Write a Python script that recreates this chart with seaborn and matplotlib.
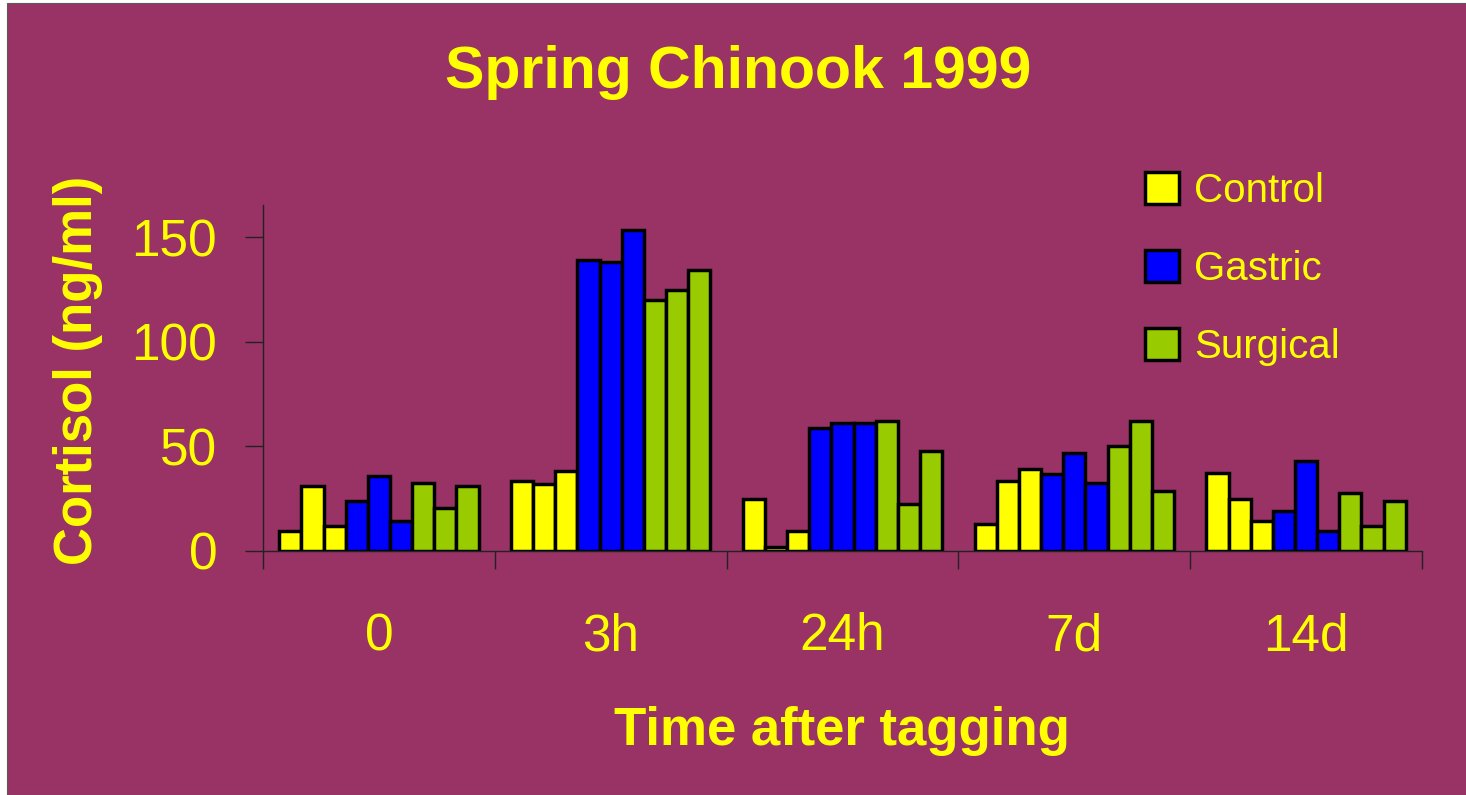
import pandas as pd
import seaborn as sns
import matplotlib.pyplot as plt
from matplotlib.patches import Patch, Rectangle

# cortisol (ng/ml), three fish per treatment at each sampling time
times = ["0", "3h", "24h", "7d", "14d"]
treatments = ["Control", "Gastric", "Surgical"]
control = [[9.6, 31.0, 12.0], [33.5, 32.2, 38.3], [24.9, 2.1, 9.4], [12.9, 33.6, 39.4], [37.2, 25.0, 14.2]]
gastric = [[24.0, 36.0, 14.5], [139.2, 138.1, 153.6], [58.7, 61.1, 61.1], [37.0, 46.7, 32.4], [19.1, 43.0, 9.4]]
surgical = [[32.5, 20.4, 31.2], [120.0, 124.9, 134.5], [62.2, 22.7, 48.0], [50.2, 62.3, 28.7], [27.6, 11.8, 24.1]]

colors = {"Control": "#FFFF00", "Gastric": "#0000FF", "Surgical": "#99CC00"}
bg = "#993366"
txt = "#FFFF00"

rows = []
for trt, vals in zip(treatments, [control, gastric, surgical]):
    for t, reps in zip(times, vals):
        for i, v in enumerate(reps):
            rows.append({"time": t, "fish": f"{trt} {i + 1}", "cortisol": v})
df = pd.DataFrame(rows)
fish_order = [f"{trt} {i + 1}" for trt in treatments for i in range(3)]
palette = [colors[trt] for trt in treatments for _ in range(3)]

sns.set_theme(style="ticks")
plt.rcParams["font.family"] = ["Liberation Sans", "DejaVu Sans"]

fig = plt.figure(figsize=(14.66, 7.95), dpi=100, facecolor="white")
fig.patches.append(Rectangle((7 / 1466, 0), 1, 1 - 3 / 795, transform=fig.transFigure,
                             facecolor=bg, edgecolor="#5a5a5a", lw=0.8, zorder=-10))
ax = fig.add_axes([263 / 1466, 1 - 551 / 795, (1422 - 263) / 1466, (551 - 205) / 795])
ax.set_facecolor(bg)

sns.barplot(data=df, x="time", y="cortisol", hue="fish", order=times, hue_order=fish_order,
            palette=palette, width=0.86, errorbar=None, edgecolor="black", linewidth=2.5,
            legend=False, ax=ax, saturation=1)

ax.set_ylim(0, 165.5)
ax.set_xlim(-0.5, 4.5)
ax.set_yticks([0, 50, 100, 150])
ax.tick_params(axis="y", length=13, width=1, color="#222222", labelsize=37, labelcolor=txt, pad=20)
ax.set_xticks([-0.5, 0.5, 1.5, 2.5, 3.5, 4.5])
ax.set_xticklabels([])
ax.set_xticks(range(len(times)), minor=True)
ax.set_xticklabels(times, minor=True)
ax.tick_params(axis="x", which="major", length=13, width=1, color="#222222")
ax.tick_params(axis="x", which="minor", length=0, labelsize=37, labelcolor=txt, pad=44)
for s in ["top", "right"]:
    ax.spines[s].set_visible(False)
for s in ["left", "bottom"]:
    ax.spines[s].set_color("#222222")
    ax.spines[s].set_linewidth(1)
ax.set_xlabel("")
ax.set_ylabel("")

fig.text(738 / 1466, 1 - 88 / 795, "Spring Chinook 1999", color=txt, fontsize=42.5,
         fontweight="bold", ha="center", va="baseline")
fig.text(842 / 1466, 1 - 745 / 795, "Time after tagging", color=txt, fontsize=38,
         fontweight="bold", ha="center", va="baseline")
fig.text(92 / 1466, 1 - 370 / 795, "Cortisol (ng/ml)", color=txt, fontsize=38,
         fontweight="bold", ha="center", va="baseline", rotation=90, rotation_mode="anchor")

handles = [Patch(facecolor=colors[t], edgecolor="black", linewidth=2.5, label=t) for t in treatments]
leg = fig.legend(handles=handles, loc="upper left", bbox_to_anchor=(1145 / 1466, 1 - 172 / 795),
                 frameon=False, fontsize=29, handlelength=0.84, handleheight=0.84,
                 handletextpad=0.38, labelspacing=0.99, borderpad=0, borderaxespad=0)
for t in leg.get_texts():
    t.set_color(txt)

fig.savefig("out.png", dpi=100, facecolor=fig.get_facecolor())
